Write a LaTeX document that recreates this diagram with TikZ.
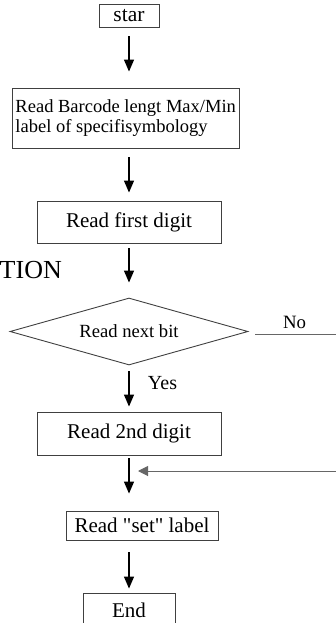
\documentclass[tikz,border=0pt]{standalone}
\usepackage{fontspec}
\setmainfont{Liberation Serif}
\newfontfamily\plainq{Liberation Serif}
\usetikzlibrary{arrows.meta,shapes.geometric}
\begin{document}
\begin{tikzpicture}[x=1pt,y=-1pt,
  box/.style={draw=black!75,line width=0.9pt,inner sep=0pt,font=\fontsize{21}{24}\selectfont},
  arr/.style={draw=black,line width=1.3pt,-{Triangle[length=12pt,width=10pt]}},
  thinline/.style={draw=black!60,line width=1pt}]
\useasboundingbox (0,0) rectangle (336,623);
\node[box,minimum width=60pt,minimum height=23pt,font=\fontsize{21.5}{24}\selectfont] (star) at (129,15.5) {star};
\node[box,minimum width=227pt,minimum height=60pt,align=left,
  font=\fontsize{18.5}{20}\selectfont] (bar) at (125.5,118) {\makebox[227pt][l]{\hspace*{3.5pt}Read Barcode lengt Max/Min}\\\makebox[227pt][l]{\hspace*{3.5pt}label of specifisymbology}};
\node[box,minimum width=184pt,minimum height=42pt] (first) at (129,222) {Read first digit};
\node[font=\fontsize{26}{28}\selectfont,anchor=east,inner sep=0pt] (tion) at (62,270) {TION};
\node[box,shape=diamond,aspect=3.55,minimum width=238pt,minimum height=67pt,
  font=\fontsize{18.6}{20}\selectfont] (dec) at (129,331.5) {Read next bit};
\node[font=\fontsize{18.8}{20}\selectfont,inner sep=0pt] (no) at (294.5,322) {No};
\node[font=\fontsize{20}{22}\selectfont,inner sep=0pt] (yes) at (162.5,383) {Yes};
\node[box,minimum width=184pt,minimum height=43pt] (second) at (129,433.5) {Read 2nd digit};
\node[box,minimum width=152pt,minimum height=29pt,font=\fontsize{21}{24}\plainq] (set) at (142,525.5) {Read "set" label};
\node[box,minimum width=92pt,minimum height=34pt] (end) at (129,610) {End};
\coordinate (noend) at (336,334);
\coordinate (backstart) at (336,471);
\coordinate (backtip) at (129,471);
\draw[arr,shorten <=9pt,shorten >=16pt] (star) -- (bar.north -| star);
\draw[arr,shorten <=9pt,shorten >=8pt] (bar.south -| star) -- (first);
\draw[arr,shorten <=5pt,shorten >=15pt] (first) -- (dec);
\draw[thinline,shorten <=7pt] (dec.east |- noend) -- (noend);
\draw[arr,shorten <=6pt,shorten >=5pt] (dec) -- (second);
\draw[arr,shorten <=3pt,shorten >=17pt] (second) -- (set.north -| second);
\draw[thinline,-{Triangle[length=10pt,width=10pt]},shorten >=9pt] (backstart) -- (backtip);
\draw[arr,shorten <=12pt,shorten >=4pt] (set.south -| end) -- (end);
\end{tikzpicture}
\end{document}
